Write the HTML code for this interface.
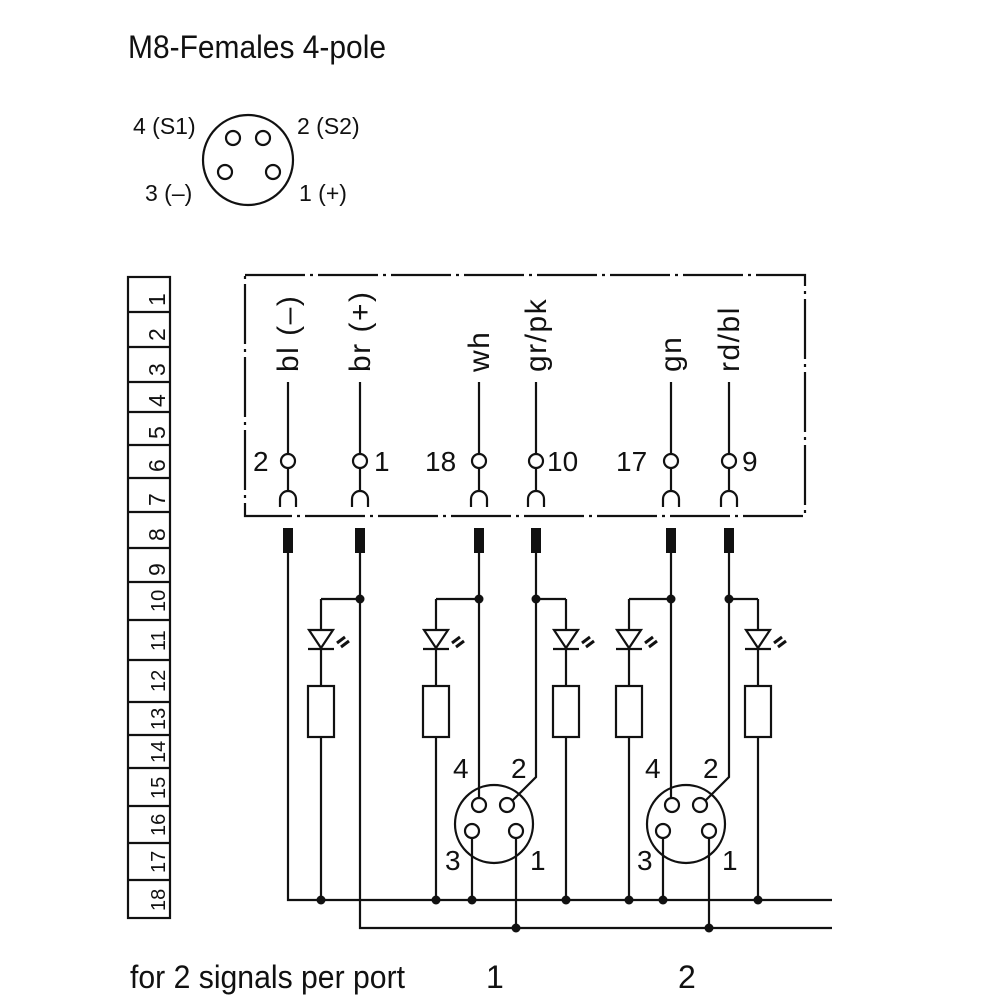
<!DOCTYPE html>
<html><head><meta charset="utf-8"><style>
html,body{margin:0;padding:0;background:#fff}
svg{display:block}
text{font-family:"Liberation Sans Narrow","Liberation Sans",sans-serif;fill:#111}
</style></head><body>
<svg width="1000" height="1000" viewBox="0 0 1000 1000" xmlns="http://www.w3.org/2000/svg">
<g stroke="#111" stroke-width="2.2" fill="none">
<circle cx="248" cy="160" r="45"/>
<circle cx="233" cy="138" r="7"/><circle cx="263" cy="138" r="7"/>
<circle cx="225" cy="172" r="7"/><circle cx="273" cy="172" r="7"/>
<rect x="245" y="275" width="560" height="241" stroke-dasharray="60,5,3,5"/>
<rect x="128" y="277" width="42" height="641"/>
<path d="M128 312H170M128 347H170M128 382H170M128 412H170M128 445H170M128 478H170M128 512H170M128 548H170M128 582H170M128 620H170M128 660H170M128 702H170M128 735H170M128 768H170M128 806H170M128 843H170M128 880H170"/>
<path d="M288 382V491M360 382V491M479 382V491M536 382V491M671 382V491M729 382V491"/>
<path d="M280 507v-8a8 8 0 0 1 16 0v8M352 507v-8a8 8 0 0 1 16 0v8M471 507v-8a8 8 0 0 1 16 0v8M528 507v-8a8 8 0 0 1 16 0v8M663 507v-8a8 8 0 0 1 16 0v8M721 507v-8a8 8 0 0 1 16 0v8"/>
<g fill="#fff">
<circle cx="288" cy="461" r="7"/><circle cx="360" cy="461" r="7"/><circle cx="479" cy="461" r="7"/><circle cx="536" cy="461" r="7"/><circle cx="671" cy="461" r="7"/><circle cx="729" cy="461" r="7"/>
</g>
<path d="M288 553V900H832M360 553V928H832M479 553V798M536 553V777L512 801M671 553V798M729 553V777L705 801"/>
<path d="M321 599H360M436 599H479M536 599H566M629 599H671M729 599H758"/>
<path d="M321 599V900M436 599V900M566 599V900M629 599V900M758 599V900"/>
<path d="M472 838V900M516 838V928M663 838V900M709 838V928"/>
<g fill="#fff">
<rect x="308" y="686" width="26" height="51"/><rect x="423" y="686" width="26" height="51"/><rect x="553" y="686" width="26" height="51"/><rect x="616" y="686" width="26" height="51"/><rect x="745" y="686" width="26" height="51"/>
</g>
<circle cx="494" cy="824" r="39"/><circle cx="686" cy="824" r="39"/>
<g fill="#fff">
<circle cx="479" cy="805" r="7"/><circle cx="507" cy="805" r="7"/><circle cx="472" cy="831" r="7"/><circle cx="516" cy="831" r="7"/>
<circle cx="672" cy="805" r="7"/><circle cx="700" cy="805" r="7"/><circle cx="663" cy="831" r="7"/><circle cx="709" cy="831" r="7"/>
</g>
<g fill="#fff">
<path d="M309 630H333L321 648Z"/><path d="M424 630H448L436 648Z"/><path d="M554 630H578L566 648Z"/><path d="M617 630H641L629 648Z"/><path d="M746 630H770L758 648Z"/>
</g>
<path d="M308 649H334M423 649H449M553 649H579M616 649H642M745 649H771"/>
<path d="M337 643l8 -6M341 647l8 -6M452 643l8 -6M456 647l8 -6M582 643l8 -6M586 647l8 -6M645 643l8 -6M649 647l8 -6M774 643l8 -6M778 647l8 -6" stroke-width="3"/>
</g>
<g fill="#111">
<rect x="283" y="528" width="10" height="25"/><rect x="355" y="528" width="10" height="25"/><rect x="474" y="528" width="10" height="25"/><rect x="531" y="528" width="10" height="25"/><rect x="666" y="528" width="10" height="25"/><rect x="724" y="528" width="10" height="25"/>
<circle cx="360" cy="599" r="4.5"/><circle cx="479" cy="599" r="4.5"/><circle cx="536" cy="599" r="4.5"/><circle cx="671" cy="599" r="4.5"/><circle cx="729" cy="599" r="4.5"/>
<circle cx="321" cy="900" r="4.5"/><circle cx="436" cy="900" r="4.5"/><circle cx="472" cy="900" r="4.5"/><circle cx="566" cy="900" r="4.5"/><circle cx="629" cy="900" r="4.5"/><circle cx="663" cy="900" r="4.5"/><circle cx="758" cy="900" r="4.5"/>
<circle cx="516" cy="928" r="4.5"/><circle cx="709" cy="928" r="4.5"/>
</g>
<text x="128" y="58" font-size="32" textLength="258" lengthAdjust="spacingAndGlyphs">M8-Females  4-pole</text>
<text x="133" y="134" font-size="23">4 (S1)</text>
<text x="297" y="134" font-size="23">2 (S2)</text>
<text x="145" y="201" font-size="23">3 (–)</text>
<text x="299" y="201" font-size="23">1 (+)</text>
<g font-size="28">
<text x="253" y="471">2</text><text x="374" y="471">1</text><text x="425" y="471">18</text><text x="547" y="471">10</text><text x="616" y="471">17</text><text x="742" y="471">9</text>
<text x="453" y="778">4</text><text x="511" y="778">2</text><text x="445" y="870">3</text><text x="530" y="870">1</text>
<text x="645" y="778">4</text><text x="703" y="778">2</text><text x="637" y="870">3</text><text x="722" y="870">1</text>
</g>
<g font-size="30" letter-spacing="1.5">
<text transform="translate(298,372) rotate(-90)">bl (–)</text>
<text transform="translate(370,372) rotate(-90)">br (+)</text>
<text transform="translate(489,372) rotate(-90)">wh</text>
<text transform="translate(546,372) rotate(-90)">gr/pk</text>
<text transform="translate(681,372) rotate(-90)">gn</text>
<text transform="translate(739,372) rotate(-90)">rd/bl</text>
</g>
<g font-size="23">
<text transform="translate(165,306) rotate(-90)">1</text>
<text transform="translate(165,341) rotate(-90)">2</text>
<text transform="translate(165,376) rotate(-90)">3</text>
<text transform="translate(165,407) rotate(-90)">4</text>
<text transform="translate(165,439) rotate(-90)">5</text>
<text transform="translate(165,472) rotate(-90)">6</text>
<text transform="translate(165,506) rotate(-90)">7</text>
<text transform="translate(165,541) rotate(-90)">8</text>
<text transform="translate(165,576) rotate(-90)">9</text>
</g>
<g font-size="20">
<text transform="translate(165,612) rotate(-90)">10</text>
<text transform="translate(165,651) rotate(-90)">11</text>
<text transform="translate(165,692) rotate(-90)">12</text>
<text transform="translate(165,730) rotate(-90)">13</text>
<text transform="translate(165,763) rotate(-90)">14</text>
<text transform="translate(165,799) rotate(-90)">15</text>
<text transform="translate(165,836) rotate(-90)">16</text>
<text transform="translate(165,873) rotate(-90)">17</text>
<text transform="translate(165,911) rotate(-90)">18</text>
</g>
<text x="130" y="988" font-size="32" textLength="275" lengthAdjust="spacingAndGlyphs">for 2 signals per port</text>
<text x="486" y="988" font-size="32">1</text>
<text x="678" y="988" font-size="32">2</text>
</svg>
</body></html>
